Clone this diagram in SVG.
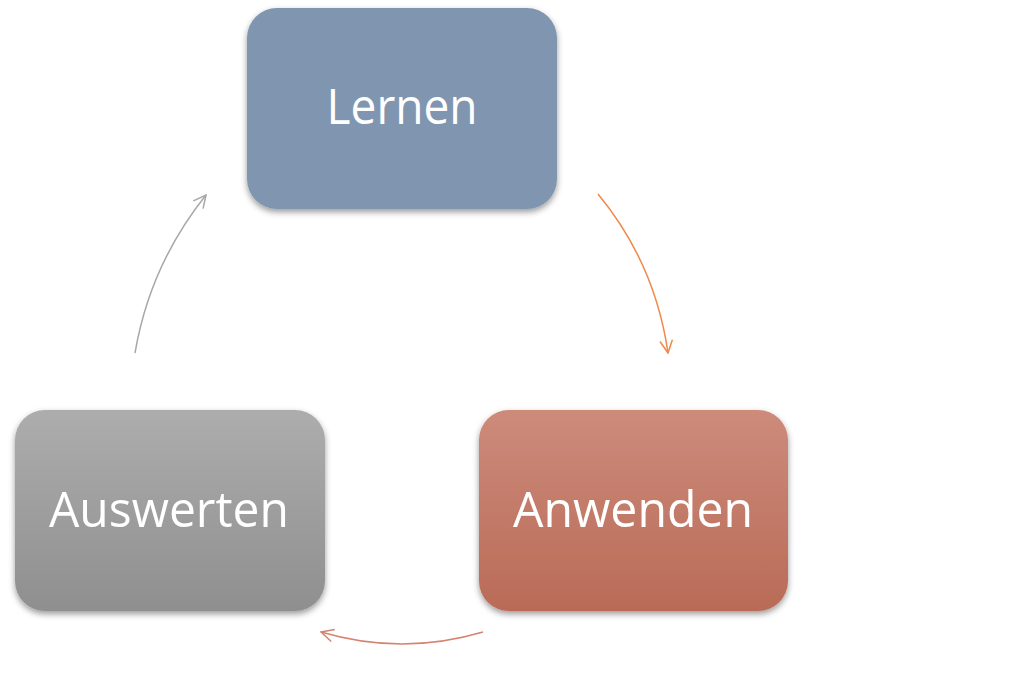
<svg xmlns="http://www.w3.org/2000/svg" width="1024" height="697" viewBox="0 0 1024 697">
<style>
.box{filter:url(#sh)}
.lbl{font-family:"Open Sans","Liberation Sans",sans-serif;font-size:49px;fill:#ffffff;text-anchor:middle}
.con{fill:none;stroke-width:1.5}
</style>
<defs>
<filter id="sh" x="-10%" y="-10%" width="120%" height="130%">
<feDropShadow dx="0" dy="3" stdDeviation="3" flood-color="#000" flood-opacity="0.4"/>
</filter>
<linearGradient id="gA" x1="0" y1="0" x2="0" y2="1">
<stop offset="0" stop-color="#CD8B7B"/><stop offset="1" stop-color="#B96B57"/>
</linearGradient>
<linearGradient id="gW" x1="0" y1="0" x2="0" y2="1">
<stop offset="0" stop-color="#ADADAD"/><stop offset="1" stop-color="#8F8F8F"/>
</linearGradient>
<marker id="mO" viewBox="0 0 12 12" refX="11" refY="6" markerWidth="15" markerHeight="15" markerUnits="userSpaceOnUse" orient="auto"><path d="M1,1 L11,6 L1,11" fill="none" stroke="#F0894A" stroke-width="1.2"/></marker>
<marker id="mG" viewBox="0 0 12 12" refX="11" refY="6" markerWidth="15" markerHeight="15" markerUnits="userSpaceOnUse" orient="auto"><path d="M1,1 L11,6 L1,11" fill="none" stroke="#A8A8A8" stroke-width="1.2"/></marker>
<marker id="mR" viewBox="0 0 12 12" refX="11" refY="6" markerWidth="15" markerHeight="15" markerUnits="userSpaceOnUse" orient="auto"><path d="M1,1 L11,6 L1,11" fill="none" stroke="#D4836F" stroke-width="1.2"/></marker>
</defs>
<rect width="1024" height="697" fill="#ffffff"/>
<g id="connectors">
<path class="con" d="M598,194 Q655,263 668,353" stroke="#F0894A" marker-end="url(#mO)"/>
<path class="con" d="M483,632 Q402,656 321,632" stroke="#D4836F" marker-end="url(#mR)"/>
<path class="con" d="M135,353 Q150,265 206,195" stroke="#A8A8A8" marker-end="url(#mG)"/>
</g>
<g id="lernen">
<rect class="box" x="247" y="8" width="310" height="201" rx="30" fill="#8096B0"/>
<text class="lbl" x="402" y="124" textLength="151" lengthAdjust="spacingAndGlyphs">Lernen</text>
</g>
<g id="anwenden">
<rect class="box" x="479" y="410" width="309" height="201" rx="30" fill="url(#gA)"/>
<text class="lbl" x="633" y="527" textLength="240" lengthAdjust="spacingAndGlyphs">Anwenden</text>
</g>
<g id="auswerten">
<rect class="box" x="15" y="410" width="310" height="201" rx="30" fill="url(#gW)"/>
<text class="lbl" x="169" y="527" textLength="240" lengthAdjust="spacingAndGlyphs">Auswerten</text>
</g>
</svg>
